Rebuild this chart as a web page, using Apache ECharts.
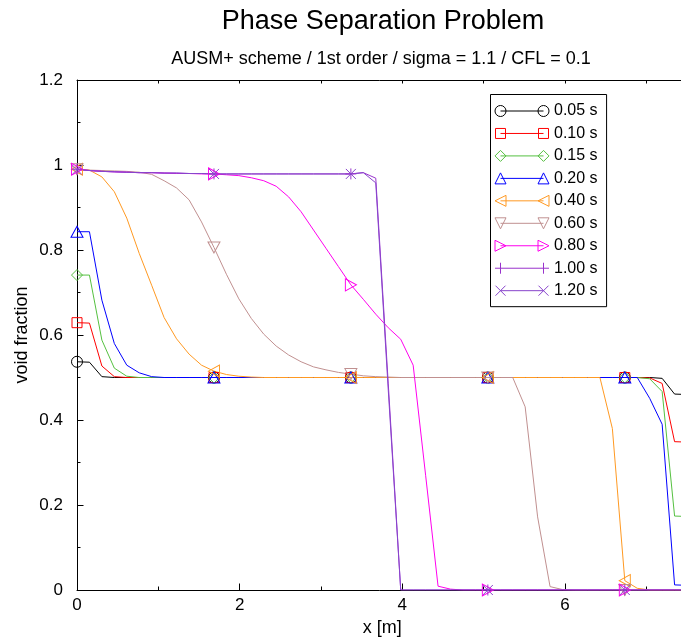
<!DOCTYPE html>
<html>
<head>
<meta charset="utf-8">
<script src="https://cdn.jsdelivr.net/npm/echarts@6/dist/echarts.min.js"></script>
<style>html,body{margin:0;padding:0;background:#fff}#c{width:681px;height:644px}</style>
</head>
<body>
<div id="c"></div>
<script>
// ---- data ----
const xValues = [
  0.000, 0.153, 0.306, 0.459, 0.612, 0.765, 0.918, 1.071, 1.224, 1.378,
  1.531, 1.684, 1.837, 1.990, 2.143, 2.296, 2.449, 2.602, 2.755, 2.908,
  3.061, 3.214, 3.367, 3.520, 3.673, 3.827, 3.980, 4.133, 4.286, 4.439,
  4.592, 4.745, 4.898, 5.051, 5.204, 5.357, 5.510, 5.663, 5.816, 5.969,
  6.122, 6.276, 6.429, 6.582, 6.735, 6.888, 7.041, 7.194, 7.347, 7.500
];
const seriesLabels = ['0.05 s', '0.10 s', '0.15 s', '0.20 s', '0.40 s', '0.60 s', '0.80 s', '1.00 s', '1.20 s'];

const t005 = [
  0.537, 0.536, 0.502, 0.500, 0.500, 0.500, 0.500, 0.500, 0.500, 0.500,
  0.500, 0.500, 0.500, 0.500, 0.500, 0.500, 0.500, 0.500, 0.500, 0.500,
  0.500, 0.500, 0.500, 0.500, 0.500, 0.500, 0.500, 0.500, 0.500, 0.500,
  0.500, 0.500, 0.500, 0.500, 0.500, 0.500, 0.500, 0.500, 0.500, 0.500,
  0.500, 0.500, 0.500, 0.500, 0.500, 0.500, 0.500, 0.498, 0.461, 0.460
];
const t010 = [
  0.629, 0.628, 0.527, 0.502, 0.500, 0.500, 0.500, 0.500, 0.500, 0.500,
  0.500, 0.500, 0.500, 0.500, 0.500, 0.500, 0.500, 0.500, 0.500, 0.500,
  0.500, 0.500, 0.500, 0.500, 0.500, 0.500, 0.500, 0.500, 0.500, 0.500,
  0.500, 0.500, 0.500, 0.500, 0.500, 0.500, 0.500, 0.500, 0.500, 0.500,
  0.500, 0.500, 0.500, 0.500, 0.500, 0.500, 0.499, 0.486, 0.349, 0.348
];
const t015 = [
  0.741, 0.741, 0.588, 0.522, 0.503, 0.500, 0.500, 0.500, 0.500, 0.500,
  0.500, 0.500, 0.500, 0.500, 0.500, 0.500, 0.500, 0.500, 0.500, 0.500,
  0.500, 0.500, 0.500, 0.500, 0.500, 0.500, 0.500, 0.500, 0.500, 0.500,
  0.500, 0.500, 0.500, 0.500, 0.500, 0.500, 0.500, 0.500, 0.500, 0.500,
  0.500, 0.500, 0.500, 0.500, 0.500, 0.500, 0.497, 0.467, 0.174, 0.173
];
const t020 = [
  0.843, 0.843, 0.682, 0.580, 0.529, 0.511, 0.502, 0.500, 0.500, 0.500,
  0.500, 0.500, 0.500, 0.500, 0.500, 0.500, 0.500, 0.500, 0.500, 0.500,
  0.500, 0.500, 0.500, 0.500, 0.500, 0.500, 0.500, 0.500, 0.500, 0.500,
  0.500, 0.500, 0.500, 0.500, 0.500, 0.500, 0.500, 0.500, 0.500, 0.500,
  0.500, 0.500, 0.500, 0.500, 0.500, 0.500, 0.451, 0.390, 0.012, 0.011
];
const t040 = [
  0.990, 0.988, 0.972, 0.937, 0.875, 0.792, 0.717, 0.641, 0.591, 0.555,
  0.529, 0.515, 0.507, 0.503, 0.501, 0.500, 0.500, 0.500, 0.500, 0.500,
  0.500, 0.500, 0.500, 0.500, 0.500, 0.500, 0.500, 0.500, 0.500, 0.500,
  0.500, 0.500, 0.500, 0.500, 0.500, 0.500, 0.500, 0.500, 0.500, 0.500,
  0.500, 0.500, 0.500, 0.380, 0.022, 0.004, 0.000, 0.000, 0.000, 0.000
];
const t060 = [
  0.990, 0.988, 0.987, 0.986, 0.985, 0.983, 0.978, 0.963, 0.946, 0.918,
  0.866, 0.806, 0.743, 0.685, 0.639, 0.602, 0.574, 0.553, 0.537, 0.525,
  0.518, 0.512, 0.508, 0.504, 0.502, 0.501, 0.500, 0.500, 0.500, 0.500,
  0.500, 0.500, 0.500, 0.500, 0.500, 0.500, 0.431, 0.172, 0.008, 0.001,
  0.000, 0.000, 0.000, 0.000, 0.000, 0.000, 0.000, 0.000, 0.000, 0.000
];
const t080 = [
  0.990, 0.987, 0.985, 0.984, 0.983, 0.982, 0.982, 0.981, 0.980, 0.980,
  0.979, 0.979, 0.977, 0.975, 0.970, 0.963, 0.950, 0.925, 0.890, 0.847,
  0.804, 0.761, 0.718, 0.684, 0.649, 0.617, 0.590, 0.529, 0.270, 0.009,
  0.002, 0.000, 0.000, 0.000, 0.000, 0.000, 0.000, 0.000, 0.000, 0.000,
  0.000, 0.000, 0.000, 0.000, 0.000, 0.000, 0.000, 0.000, 0.000, 0.000
];
const t100 = [
  0.990, 0.987, 0.985, 0.984, 0.983, 0.982, 0.982, 0.981, 0.981, 0.980,
  0.980, 0.979, 0.979, 0.979, 0.979, 0.979, 0.979, 0.979, 0.979, 0.979,
  0.979, 0.979, 0.979, 0.982, 0.969, 0.485, 0.000, 0.000, 0.000, 0.000,
  0.000, 0.000, 0.000, 0.000, 0.000, 0.000, 0.000, 0.000, 0.000, 0.000,
  0.000, 0.000, 0.000, 0.000, 0.000, 0.000, 0.000, 0.000, 0.000, 0.000
];
const t120 = [
  0.989, 0.987, 0.985, 0.984, 0.983, 0.982, 0.982, 0.981, 0.981, 0.980,
  0.980, 0.979, 0.979, 0.979, 0.979, 0.979, 0.979, 0.979, 0.979, 0.979,
  0.979, 0.979, 0.979, 0.982, 0.958, 0.470, 0.000, 0.000, 0.000, 0.000,
  0.000, 0.000, 0.000, 0.000, 0.000, 0.000, 0.000, 0.000, 0.000, 0.000,
  0.000, 0.000, 0.000, 0.000, 0.000, 0.000, 0.000, 0.000, 0.000, 0.000
];
const seriesValues = [t005, t010, t015, t020, t040, t060, t080, t100, t120];
// indices of the points that carry a marker (every 11th point)
const markerIndices = [0, 11, 22, 33, 44];
const xTickLabels = ['0', '2', '4', '6'];

// ---- styles ----
const FONT = "'Liberation Sans', Arial, Helvetica, sans-serif";
const colors = ['#000000', '#ff0000', '#55c040', '#0000ff', '#ff9922', '#c09090', '#ff00ee', '#9933cc', '#8844cc'];
const PLUS = 'path://M0,5L10,5M5,0L5,10';
const CROSS = 'path://M0,0L10,10M0,10L10,0';
const markerSymbols = ['circle', 'rect', 'diamond', 'triangle', 'triangle', 'triangle', 'triangle', PLUS, CROSS];
const markerRotate = [0, 0, 0, 0, 90, 180, -90, 0, 0];
const markerSize = [11, 10, 11, [12, 11], [12, 11], [12, 11], [12, 11], 11, 10];

const L = 'M5.5,5.5L48.5,5.5';
const legendIcons = [
  'path://M0,5.5A5.5,5.5,0,1,1,11,5.5A5.5,5.5,0,1,1,0,5.5Z' + L + 'M43,5.5A5.5,5.5,0,1,1,54,5.5A5.5,5.5,0,1,1,43,5.5Z',
  'path://M0.5,0.5L10.5,0.5L10.5,10.5L0.5,10.5Z' + L + 'M43.5,0.5L53.5,0.5L53.5,10.5L43.5,10.5ZM0,0M54,11',
  'path://M0,5.5L5.5,0L11,5.5L5.5,11Z' + L + 'M43,5.5L48.5,0L54,5.5L48.5,11Z',
  'path://M0,11L5.5,0L11,11Z' + L + 'M43,11L48.5,0L54,11Z',
  'path://M0,5.5L11,0L11,11Z' + L + 'M43,5.5L54,0L54,11Z',
  'path://M0,0L11,0L5.5,11Z' + L + 'M43,0L54,0L48.5,11Z',
  'path://M0,0L11,5.5L0,11Z' + L + 'M43,0L54,5.5L43,11Z',
  'path://M0,5.5L54,5.5M5.5,0L5.5,11M48.5,0L48.5,11',
  'path://M0.5,0.5L10.5,10.5M0.5,10.5L10.5,0.5' + L + 'M43.5,0.5L53.5,10.5M43.5,10.5L53.5,0.5M0,0M54,11'
];

const series = [];
seriesLabels.forEach(function (name, k) {
  const ys = seriesValues[k];
  series.push({
    type: 'scatter', name: name, z: 3, clip: false,
    symbol: markerSymbols[k], symbolRotate: markerRotate[k], symbolSize: markerSize[k],
    itemStyle: { color: 'rgba(0,0,0,0)', borderColor: colors[k], borderWidth: 1, opacity: 1 },
    data: markerIndices.map(function (i) { return [xValues[i], ys[i]]; }),
    silent: true
  });
  series.push({
    type: 'line', name: name, z: 2, showSymbol: false, symbol: 'none',
    lineStyle: { color: colors[k], width: 1 },
    itemStyle: { color: colors[k] },
    data: xValues.map(function (x, i) { return [x, ys[i]]; }),
    silent: true
  });
});

const chart = echarts.init(document.getElementById('c'), null, { renderer: 'canvas' });
chart.setOption({
  animation: false,
  backgroundColor: '#ffffff',
  title: [
    { text: 'Phase Separation Problem', left: 383, top: 8.5, textAlign: 'center', padding: 0,
      textStyle: { fontFamily: FONT, fontSize: 27, fontWeight: 'normal', color: '#000' } },
    { text: 'AUSM+ scheme / 1st order / sigma = 1.1 / CFL = 0.1', left: 381, top: 50, textAlign: 'center', padding: 0,
      textStyle: { fontFamily: FONT, fontSize: 18, fontWeight: 'normal', color: '#000' } }
  ],
  legend: {
    orient: 'vertical', left: 490.5, top: 94.5, padding: [8.5, 9, 8, 4],
    itemWidth: 54, itemHeight: 11, itemGap: 6.46,
    borderColor: '#000', borderWidth: 1, backgroundColor: '#fff',
    selectedMode: false,
    textStyle: { fontFamily: FONT, fontSize: 16, color: '#000', lineHeight: 16 },
    data: seriesLabels.map(function (n, k) {
      return { name: n, icon: legendIcons[k],
        itemStyle: { color: 'rgba(0,0,0,0)', borderColor: colors[k], borderWidth: 1 } };
    })
  },
  grid: { left: 77, top: 80, width: 650.7, height: 510, containLabel: false, outerBoundsMode: 'none' },
  xAxis: [
    { type: 'value', min: 0, max: 8, interval: 2, position: 'bottom',
      name: 'x [m]', nameLocation: 'middle', nameGap: 29, nameMoveOverlap: false,
      nameTextStyle: { fontFamily: FONT, fontSize: 18, color: '#000', padding: [0, 40, 0, 0] },
      axisLine: { show: true, onZero: false, lineStyle: { color: '#000', width: 1 } },
      axisTick: { show: true, inside: true, length: 6.5, lineStyle: { color: '#000' } },
      minorTick: { show: true, splitNumber: 2, length: 3.5, lineStyle: { color: '#000' } },
      axisLabel: { margin: 7, fontFamily: FONT, fontSize: 17, color: '#000',
        formatter: function (v) { const s = String(v); return xTickLabels.indexOf(s) >= 0 ? s : ''; } },
      splitLine: { show: false }, minorSplitLine: { show: false } },
    { type: 'value', min: 0, max: 8, interval: 1, position: 'top',
      axisLine: { show: true, onZero: false, lineStyle: { color: '#000', width: 1 } },
      axisTick: { show: true, inside: true, length: 3.5, lineStyle: { color: '#000' } },
      axisLabel: { show: false }, splitLine: { show: false } }
  ],
  yAxis: {
    type: 'value', min: 0, max: 1.2, interval: 0.2,
    name: 'void fraction', nameLocation: 'middle', nameGap: 46, nameMoveOverlap: false,
    nameTextStyle: { fontFamily: FONT, fontSize: 18, color: '#000' },
    axisLine: { show: true, onZero: false, lineStyle: { color: '#000', width: 1 } },
    axisTick: { show: true, inside: true, length: 6.5, lineStyle: { color: '#000' } },
    minorTick: { show: true, splitNumber: 2, length: 3.5, lineStyle: { color: '#000' } },
    axisLabel: { margin: 14, fontFamily: FONT, fontSize: 17, color: '#000' },
    splitLine: { show: false }, minorSplitLine: { show: false }
  },
  series: series
});
</script>
</body>
</html>
